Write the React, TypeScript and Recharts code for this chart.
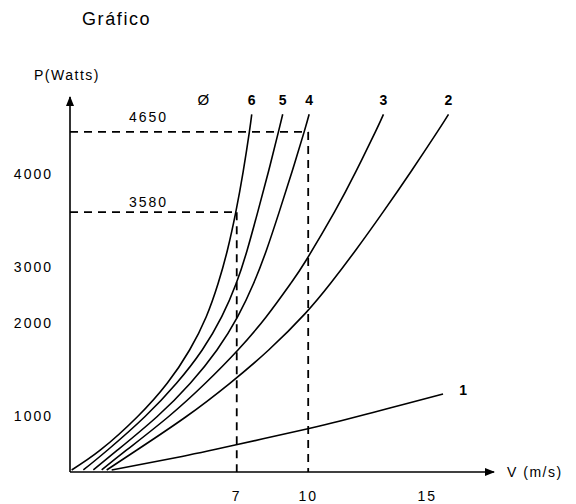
import React from 'react';
import { LineChart, Line, XAxis, YAxis, ReferenceLine, ReferenceDot, LabelList } from 'recharts';

// V (m/s) y P (W), una pareja de listas por curva
const v1 = [1.75, 4.48, 6.93, 9.94, 11.34, 12.72, 14.15, 15.66];
const p1 = [36, 259, 483, 769, 912, 1039, 1135, 1238];

const v2 = [1.54, 2.81, 4.87, 6.71, 8.34, 9.88, 10.94, 12.0, 13.14, 14.31, 15.42, 15.89];
const p2 = [36, 394, 989, 1353, 1711, 2174, 2708, 3179, 3580, 4034, 4650, 4927];

const v3 = [1.33, 2.38, 4.13, 5.68, 7.05, 8.24, 9.27, 9.92, 11.1, 12.0, 12.82, 13.16];
const p3 = [36, 394, 989, 1353, 1711, 2114, 2708, 3073, 3580, 4034, 4650, 4927];

const v4 = [0.98, 2.0, 3.65, 5.05, 6.17, 7.04, 7.71, 8.25, 8.78, 9.32, 9.83, 10.04];
const p4 = [36, 394, 989, 1353, 1711, 2114, 2708, 3179, 3580, 4034, 4650, 4927];

const v5 = [0.56, 1.58, 3.14, 4.47, 5.55, 6.37, 6.98, 7.44, 7.88, 8.33, 8.75, 8.93];
const p5 = [36, 394, 989, 1353, 1711, 2114, 2708, 3179, 3580, 4034, 4650, 4927];

const v6 = [0.07, 1.28, 2.83, 4.08, 5.02, 5.72, 6.22, 6.61, 6.96, 7.27, 7.53, 7.63];
const p6 = [36, 394, 989, 1353, 1711, 2114, 2708, 3179, 3580, 4034, 4650, 4927];

const curveNames = ['1', '2', '3', '4', '5', '6'];
const curveV = [v1, v2, v3, v4, v5, v6];
const curveP = [p1, p2, p3, p4, p5, p6];

const xTicks = [7, 10, 15];
const yTicks = [1000, 2000, 3000, 4000];

// puntos marcados con líneas de trazos
const markA = { v: 7, p: 3580 };
const markB = { v: 10, p: 4650 };

// el eje P del original no es lineal: valor -> fracción de la altura
const yBreaks = [0, 1000, 2000, 3000, 3580, 4000, 4650, 5200];
const yFracs = [0, 0.149, 0.397, 0.547, 0.693, 0.795, 0.907, 1];

const FONT = '"Liberation Sans", Arial, Helvetica, sans-serif';

function interp(v: number, from: number[], to: number[]) {
  let i = 1;
  while (i < from.length - 1 && v > from[i]) i++;
  const t = (v - from[i - 1]) / (from[i] - from[i - 1]);
  return to[i - 1] + t * (to[i] - to[i - 1]);
}

// escala a trozos con la interfaz mínima de d3 que usa recharts
function warpScale(): any {
  let dom = [0, 1];
  let rng = [0, 1];
  const scale: any = (v: number) => {
    const a = interp(dom[0], yBreaks, yFracs);
    const b = interp(dom[1], yBreaks, yFracs);
    return rng[0] + ((interp(v, yBreaks, yFracs) - a) / (b - a)) * (rng[1] - rng[0]);
  };
  scale.domain = (...args: any[]) => {
    if (!args.length) return dom.slice();
    dom = args[0].map(Number);
    return scale;
  };
  scale.range = (...args: any[]) => {
    if (!args.length) return rng.slice();
    rng = args[0].map(Number);
    return scale;
  };
  scale.invert = (px: number) => {
    const a = interp(dom[0], yBreaks, yFracs);
    const b = interp(dom[1], yBreaks, yFracs);
    const f = a + ((px - rng[0]) / (rng[1] - rng[0])) * (b - a);
    return interp(f, yFracs, yBreaks);
  };
  scale.copy = () => warpScale().domain(dom).range(rng);
  scale.ticks = () => yTicks;
  scale.tickFormat = () => (d: number) => String(d);
  scale.clamp = () => scale;
  scale.nice = () => scale;
  return scale;
}

const series = curveNames.map((name, i) => ({
  name,
  data: curveV[i].map((v, j) => ({ v, p: curveP[i][j] })),
}));

const endLabel = (text: string, last: number, dx: number, dy: number) => (props: any) => {
  if (props.index !== last) return null;
  return (
    <text x={Number(props.x) + dx} y={Number(props.y) + dy} textAnchor="middle" fontSize={14} fontWeight="bold" fill="#000">
      {text}
    </text>
  );
};

const dashed = { stroke: '#000', strokeWidth: 1.8, strokeDasharray: '8 6' };
const tickStyle = { fill: '#000', fontSize: 14, letterSpacing: 2 };

export default function App() {
  return (
    <div style={{ position: 'absolute', left: 0, top: 0, width: 576, height: 504, background: '#fff', fontFamily: FONT }}>
      <div style={{ position: 'absolute', left: 82, top: 10, fontSize: 18, lineHeight: '18px', letterSpacing: 1.6 }}>Gráfico</div>
      <LineChart width={576} height={504} margin={{ top: 97, right: 82, bottom: 0, left: 0 }} style={{ fontFamily: FONT }}>
        <defs>
          <marker id="arrowHead" viewBox="0 0 10 8" refX="9" refY="4" markerWidth="10" markerHeight="8" markerUnits="userSpaceOnUse" orient="auto-start-reverse">
            <path d="M0,0 L10,4 L0,8 z" fill="#000" />
          </marker>
        </defs>
        <XAxis
          type="number"
          dataKey="v"
          domain={[0, 17.8]}
          ticks={xTicks}
          height={32}
          tickLine={false}
          tickSize={6}
          tickMargin={13}
          tick={tickStyle}
          axisLine={{ stroke: '#000', strokeWidth: 1.6, markerEnd: 'url(#arrowHead)' }}
          allowDataOverflow
          label={{
            value: 'V (m/s)',
            content: ({ viewBox }: any) => (
              <text x={viewBox.x + viewBox.width + 13} y={viewBox.y + 5} fontSize={14} letterSpacing={1.5} fill="#000">
                V (m/s)
              </text>
            ),
          }}
        />
        <YAxis
          type="number"
          dataKey="p"
          domain={[0, 5200]}
          scale={warpScale()}
          ticks={yTicks}
          width={70}
          tickLine={false}
          tickSize={6}
          tickMargin={11}
          tick={tickStyle}
          axisLine={{ stroke: '#000', strokeWidth: 1.6, markerStart: 'url(#arrowHead)' }}
          allowDataOverflow
          label={{
            value: 'P(Watts)',
            content: ({ viewBox }: any) => (
              <text x={viewBox.x + viewBox.width - 3} y={viewBox.y - 17} textAnchor="middle" fontSize={14} letterSpacing={1.5} fill="#000">
                P(Watts)
              </text>
            ),
          }}
        />
        <ReferenceLine segment={[{ x: 0, y: markB.p }, { x: markB.v, y: markB.p }]} {...dashed} />
        <ReferenceLine segment={[{ x: markB.v, y: markB.p }, { x: markB.v, y: 0 }]} {...dashed} />
        <ReferenceLine segment={[{ x: 0, y: markA.p }, { x: markA.v, y: markA.p }]} {...dashed} />
        <ReferenceLine segment={[{ x: markA.v, y: markA.p }, { x: markA.v, y: 0 }]} {...dashed} />
        <ReferenceDot x={3.3} y={markB.p} r={0} fill="none" stroke="none" label={{ value: String(markB.p), position: 'top', offset: 10, fill: '#000', fontSize: 14, letterSpacing: 2 }} />
        <ReferenceDot x={3.3} y={markA.p} r={0} fill="none" stroke="none" label={{ value: String(markA.p), position: 'top', offset: 5, fill: '#000', fontSize: 14, letterSpacing: 2 }} />
        <ReferenceDot x={5.6} y={4927} r={0} fill="none" stroke="none" label={{ value: 'Ø', position: 'top', offset: 9, fill: '#000', fontSize: 15 }} />
        {series.map((s) => {
          const last = s.data.length - 1;
          const isLow = s.name === '1';
          return (
            <Line
              key={s.name}
              data={s.data}
              dataKey="p"
              type="natural"
              stroke="#000"
              strokeWidth={1.6}
              dot={false}
              activeDot={false}
              isAnimationActive={false}
            >
              <LabelList dataKey="p" content={endLabel(s.name, last, isLow ? 20 : 0, isLow ? 1 : -9)} />
            </Line>
          );
        })}
      </LineChart>
    </div>
  );
}
